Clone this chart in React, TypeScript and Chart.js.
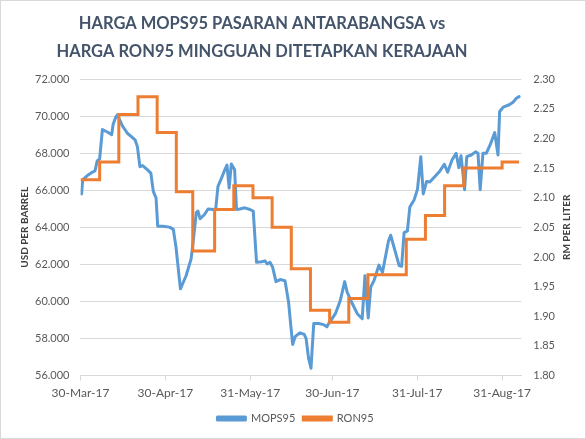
import React, { useEffect, useRef } from 'react';
import { Chart, registerables } from 'chart.js';

Chart.register(...registerables);

const titleLines = ['HARGA MOPS95 PASARAN ANTARABANGSA vs', 'HARGA RON95 MINGGUAN DITETAPKAN KERAJAAN'];
const leftAxisTitle = 'USD PER BARREL';
const rightAxisTitle = 'RM PER LITER';

// x values are days after 30-Mar-17
const tickDays = [0, 31, 62, 92, 123, 154];
const tickLabels = ['30-Mar-17', '30-Apr-17', '31-May-17', '30-Jun-17', '31-Jul-17', '31-Aug-17'];

const mopsDays = [
  0.4, 0.8, 2.5, 4.3, 5.3, 6.1, 7.0, 8.0, 9.8, 11.4, 11.9, 12.9, 13.5, 15.3, 17.2, 18.7, 20.0, 20.8, 21.7, 22.7,
  24.5, 25.7, 26.6, 27.6, 28.2, 30.0, 32.5, 33.9, 34.9, 36.5, 38.6, 40.4, 41.3, 42.3, 42.9, 43.7, 45.3, 46.6, 48.4, 49.4,
  50.2, 51.5, 52.7, 53.5, 54.3, 55.1, 56.3, 57.0, 58.2, 60.0, 61.9, 63.1, 64.3, 66.2, 67.4, 68.2, 69.2, 70.2, 71.4, 72.9,
  74.7, 76.0, 76.8, 77.5, 78.4, 80.2, 81.7, 82.4, 83.3, 84.2, 85.2, 87.0, 88.8, 90.0, 90.4, 91.9, 93.1, 94.9, 96.5, 97.4,
  99.0, 101.1, 102.9, 103.9, 105.1, 106.0, 107.2, 109.0, 110.3, 112.5, 113.3, 116.4, 117.3, 118.2, 119.4, 120.3, 121.9, 123.1, 124.3, 125.2,
  126.4, 127.6, 129.8, 131.3, 132.9, 134.1, 135.7, 137.2, 138.2, 139.0, 140.3, 141.1, 142.7, 144.3, 145.2, 146.0, 147.0, 148.2, 149.7, 151.3,
  152.5, 153.1, 154.4, 156.6, 158.0, 159.2, 160.2,
];
const mopsValues = [
  65.8, 66.56, 66.79, 66.97, 67.04, 67.58, 67.69, 69.27, 69.14, 69.0, 69.54, 69.95, 70.07, 69.47, 69.06, 68.88, 68.7, 68.34, 67.27, 67.33,
  67.1, 66.92, 65.94, 65.58, 64.06, 64.06, 64.01, 63.89, 62.91, 60.68, 61.4, 62.3, 63.4, 64.8, 64.87, 64.46, 64.69, 64.99, 64.96, 64.99,
  66.2, 66.65, 67.1, 67.36, 66.12, 67.42, 67.1, 64.96, 64.99, 65.05, 64.96, 64.87, 62.11, 62.14, 62.19, 62.02, 62.11, 61.84, 61.07, 61.18,
  61.12, 59.97, 58.72, 57.68, 58.1, 58.31, 58.22, 58.01, 56.94, 56.4, 58.81, 58.81, 58.75, 58.63, 58.75, 59.07, 59.34, 60.05, 61.07, 60.5,
  59.97, 59.34, 59.07, 61.39, 59.11, 60.77, 61.12, 61.96, 61.57, 63.26, 63.57, 61.93, 61.89, 63.71, 63.8, 65.1, 65.49, 66.06, 67.81, 65.8,
  66.47, 66.44, 66.79, 67.04, 67.4, 66.97, 67.63, 67.99, 67.22, 67.86, 66.03, 67.81, 67.9, 68.07, 67.99, 66.03, 67.99, 67.99, 68.47, 69.11,
  67.9, 70.25, 70.48, 70.61, 70.75, 70.96, 71.05,
];

const ronDays = [0, 7, 14, 21, 28, 35, 41, 49, 56, 63, 70, 77, 84, 91, 98, 105, 112, 119, 126, 133, 140, 147, 154, 160.2];
const ronValues = [
  2.13, 2.16, 2.24, 2.27, 2.21, 2.11, 2.01, 2.08, 2.12, 2.1, 2.05, 1.98, 1.91, 1.89, 1.93, 1.97, 1.97, 2.03, 2.07, 2.12,
  2.15, 2.15, 2.16, 2.16,
];

const FONT = 'Lato';
const BLUE = '#5B9BD5';
const ORANGE = '#ED7D31';
const GRID = '#D9D9D9';
const LABEL = '#595959';

// Excel places the title over the plot and both axis titles read bottom-to-top
const textBits = {
  id: 'textBits',
  afterDraw(chart: Chart) {
    const { ctx, chartArea } = chart;
    const midY = (chartArea.top + chartArea.bottom) / 2;
    ctx.save();
    ctx.textAlign = 'center';
    ctx.textBaseline = 'middle';
    ctx.fillStyle = '#44546A';
    ctx.font = `bold 16.5px ${FONT}`;
    ctx.fillText(titleLines[0], 261, 23);
    ctx.fillText(titleLines[1], 261, 51);

    ctx.fillStyle = '#404040';
    ctx.font = `bold 10px ${FONT}`;
    ctx.translate(24, midY);
    ctx.rotate(-Math.PI / 2);
    ctx.fillText(leftAxisTitle, 0, 0);
    ctx.restore();

    ctx.save();
    ctx.textAlign = 'center';
    ctx.textBaseline = 'middle';
    ctx.fillStyle = '#404040';
    ctx.font = `bold 10px ${FONT}`;
    ctx.translate(566, midY);
    ctx.rotate(-Math.PI / 2);
    ctx.fillText(rightAxisTitle, 0, 0);
    ctx.restore();
  },
};

const App: React.FC = () => {
  const canvasRef = useRef<HTMLCanvasElement>(null);

  useEffect(() => {
    if (!canvasRef.current) return;
    const chart = new Chart(canvasRef.current, {
      type: 'line',
      data: {
        datasets: [
          {
            label: 'MOPS95',
            data: mopsDays.map((d, i) => ({ x: d, y: mopsValues[i] })),
            borderColor: BLUE,
            backgroundColor: BLUE,
            borderWidth: 3,
            pointRadius: 0,
            tension: 0,
            borderJoinStyle: 'round',
            borderCapStyle: 'round',
            yAxisID: 'y',
            order: 1,
          },
          {
            label: 'RON95',
            data: ronDays.map((d, i) => ({ x: d, y: ronValues[i] })),
            borderColor: ORANGE,
            backgroundColor: ORANGE,
            borderWidth: 3,
            pointRadius: 0,
            stepped: true,
            yAxisID: 'y1',
            order: 0,
          },
        ],
      },
      options: {
        animation: false,
        responsive: true,
        maintainAspectRatio: false,
        layout: { padding: { left: 23, right: 18, top: 78, bottom: 4 } },
        plugins: {
          title: { display: false },
          legend: {
            position: 'bottom',
            labels: {
              color: LABEL,
              font: { family: FONT, size: 11 },
              boxWidth: 28,
              boxHeight: 3,
              padding: 8,
              sort: (a, b) => (a.datasetIndex ?? 0) - (b.datasetIndex ?? 0),
            },
          },
          tooltip: { enabled: false },
        },
        scales: {
          x: {
            type: 'linear',
            min: 0,
            max: 161,
            afterBuildTicks: (scale) => {
              scale.ticks = tickDays.map((v) => ({ value: v }));
            },
            ticks: {
              color: LABEL,
              font: { family: FONT, size: 12 },
              maxRotation: 0,
              autoSkip: false,
              padding: 5,
              callback: (v) => tickLabels[tickDays.indexOf(Number(v))] ?? '',
            },
            grid: { drawOnChartArea: false, color: GRID, tickLength: 5 },
            border: { color: GRID },
          },
          y: {
            position: 'left',
            min: 56,
            max: 72,
            ticks: {
              stepSize: 2,
              color: LABEL,
              font: { family: FONT, size: 11 },
              padding: 11,
              callback: (v) => Number(v).toFixed(3),
            },
            grid: { color: GRID, drawTicks: false },
            border: { display: false },
          },
          y1: {
            position: 'right',
            min: 1.8,
            max: 2.3,
            ticks: {
              stepSize: 0.05,
              color: LABEL,
              font: { family: FONT, size: 11 },
              padding: 12,
              callback: (v) => Number(v).toFixed(2),
            },
            grid: { drawOnChartArea: false, drawTicks: false },
            border: { display: false },
          },
        },
      },
      plugins: [textBits],
    });
    return () => {
      chart.destroy();
    };
  }, []);

  return (
    <div
      style={{
        position: 'fixed',
        left: 0,
        top: 0,
        width: 586,
        height: 439,
        boxSizing: 'border-box',
        border: '1px solid #D9D9D9',
        background: '#fff',
      }}
    >
      <canvas ref={canvasRef} />
    </div>
  );
};

export default App;
